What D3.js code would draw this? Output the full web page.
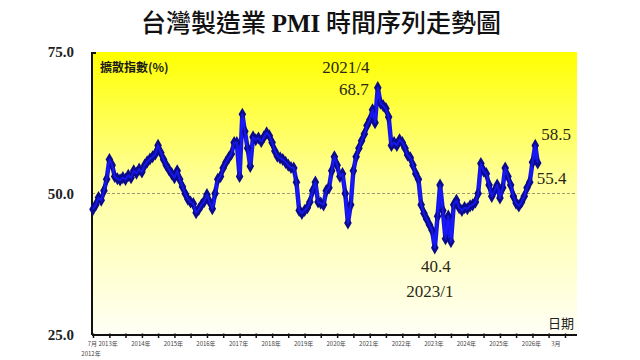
<!DOCTYPE html>
<html><head><meta charset="utf-8">
<script src="https://cdn.jsdelivr.net/npm/d3@7"></script>
<style>body{margin:0;background:#fff}svg{display:block}</style>
</head><body><svg id="c" width="640" height="360"></svg>
<script>
// First month of the series (July 2012), one value per month
const startYear = 2012, startMonth = 7;
const pmi = [
  47.2, 48.0, 49.3, 48.8, 50.5, 52.5, 56.0, 55.0, 53.0, 52.6, 52.4, 52.8,
  52.5, 53.2, 52.8, 54.0, 53.6, 54.3, 53.8, 55.0, 55.6, 56.1, 56.5, 57.0,
  58.5, 57.2, 56.0, 55.0, 54.2, 53.5, 52.8, 54.0, 52.5, 51.2, 50.0, 49.0,
  48.5, 48.2, 46.6, 47.2, 48.0, 48.6, 49.8, 48.5, 47.3, 50.0, 52.5, 53.0,
  54.5, 55.5, 56.3, 57.0, 59.0, 59.0, 53.0, 64.0, 61.0, 58.0, 54.8, 60.0,
  59.5, 59.8, 59.2, 60.0, 60.7, 60.2, 59.0, 57.5, 56.6, 56.3, 56.0, 55.5,
  55.0, 54.6, 54.5, 52.0, 47.0, 46.5, 47.0, 47.5, 48.5, 50.5, 52.0, 48.5,
  48.3, 48.0, 50.5, 51.0, 54.0, 56.5, 55.0, 53.0, 53.5, 50.0, 44.8, 48.0,
  54.0, 56.5, 58.0, 59.3, 60.5, 62.0, 63.0, 64.8, 62.5, 68.7, 66.0, 65.5,
  65.0, 63.5, 58.5, 59.0, 58.5, 59.5, 59.0, 58.0, 56.8, 56.3, 55.0, 53.5,
  52.5, 48.0, 46.5, 45.5, 44.5, 43.5, 40.4, 46.0, 51.5, 47.0, 42.0, 46.0,
  41.5, 48.0, 48.8, 47.5, 47.0, 47.5, 47.3, 47.8, 48.0, 48.5, 50.0, 55.3,
  54.0, 53.5, 51.5, 49.5, 50.5, 51.5, 49.2, 51.0, 54.5, 53.0, 51.5, 49.5,
  48.3, 47.8, 48.5, 49.5, 51.0, 52.0, 55.5, 58.5, 55.4
];
const yTicks = [25, 50, 75];
const xTickLabels = ["7月","2013年","2014年","2015年","2016年","2017年","2018年","2019年","2020年","2021年","2022年","2023年","2024年","2025年","2026年","3月"];
const xTickLabelDates = ["2012-07","2013-01","2014-01","2015-01","2016-01","2017-01","2018-01","2019-01","2020-01","2021-01","2022-01","2023-01","2024-01","2025-01","2026-01","2026-10"];
const annotations = [
  {date:"2021-04", value:68.7, lines:["2021/4","68.7"]},
  {date:"2023-01", value:40.4, lines:["40.4","2023/1"]},
  {date:"2026-02", value:58.5, lines:["58.5"]},
  {date:"2026-03", value:55.4, lines:["55.4"]}
];
// label offsets (pixels) relative to the annotated point
const annotationOffsets = [
  [[-32,-15],[-24,7]],
  [[1,24],[-5,49]],
  [[21,-5]],
  [[14,21]]
];
const title = ["台灣製造業 ", "PMI", " 時間序列走勢圖"];

const parse = d3.timeParse("%Y-%m");
const data = pmi.map((v, i) => ({date: new Date(startYear, startMonth - 1 + i, 1), value: v}));

const svg = d3.select("#c");
const L = 92, R = 577, T = 52, B = 335;
const x = d3.scaleTime().domain([new Date(2012,6,1), new Date(2027,0,1)]).range([93, 565]);
const y = d3.scaleLinear().domain([25, 75]).range([B, T]);

// gradient
const defs = svg.append("defs");
const g = defs.append("linearGradient").attr("id","bg").attr("x1",0).attr("y1",0).attr("x2",0).attr("y2",1);
g.append("stop").attr("offset","0%").attr("stop-color","#ffff00");
g.append("stop").attr("offset","45%").attr("stop-color","#ffff9a");
g.append("stop").attr("offset","100%").attr("stop-color","#fffff6");
svg.append("rect").attr("x",L).attr("y",T).attr("width",R-L).attr("height",B-T).attr("fill","url(#bg)");

// title
const tt = svg.append("text").attr("x",321).attr("y",32).attr("text-anchor","middle")
  .attr("font-size",25).attr("fill","#111");
tt.append("tspan").attr("font-family","'Noto Sans CJK TC'").attr("font-weight",500).text(title[0]);
tt.append("tspan").attr("font-family","'Liberation Serif'").attr("font-weight","bold").text(title[1]);
tt.append("tspan").attr("font-family","'Noto Sans CJK TC'").attr("font-weight",500).text(title[2]);

// 50 ref line
svg.append("line").attr("x1",L).attr("x2",R).attr("y1",y(50)).attr("y2",y(50))
  .attr("stroke","#a09a70").attr("stroke-width",1).attr("stroke-dasharray","3,2");

// y labels
svg.selectAll(".yl").data(yTicks).join("text").attr("class","yl")
  .attr("x",74).attr("y",d=>y(d)+5).attr("text-anchor","end")
  .attr("font-family","'Liberation Serif'").attr("font-weight","bold").attr("font-size",15)
  .attr("fill","#222").text(d=>d.toFixed(1));

// axes lines
svg.append("line").attr("x1",L).attr("x2",L).attr("y1",T).attr("y2",B).attr("stroke","#111").attr("stroke-width",2);
svg.append("line").attr("x1",L).attr("x2",L+4).attr("y1",T+1).attr("y2",T+1).attr("stroke","#111").attr("stroke-width",2);
const xAxis = d3.axisBottom(x).ticks(d3.timeMonth.every(6)).tickSize(3).tickFormat("");
const ax = svg.append("g").attr("transform",`translate(0,${B})`).call(xAxis);
ax.select(".domain").remove();
ax.selectAll(".tick line").attr("stroke","#111").attr("stroke-width",1.5).attr("y1",-1.5);
svg.append("line").attr("x1",L).attr("x2",R).attr("y1",B).attr("y2",B).attr("stroke","#111").attr("stroke-width",2);

// x tick labels
svg.selectAll(".xl").data(xTickLabels).join("text").attr("class","xl")
  .attr("x",(d,i)=>{ const px = x(parse(xTickLabelDates[i])); return i===0 ? px+4 : i===1 ? px-11 : px-1; })
  .attr("y",346)
  .attr("text-anchor",(d,i)=> i===0 ? "end" : i===1 ? "start" : "middle")
  .attr("font-family","'Noto Sans CJK TC'").attr("font-size",6)
  .attr("fill","#444").text(d=>d);
svg.append("text").attr("x",91).attr("y",356).attr("text-anchor","middle")
  .attr("font-family","'Noto Sans CJK TC'").attr("font-size",6).attr("fill","#444").text("2012年");

// axis titles
svg.append("text").attr("x",100).attr("y",72).attr("font-family","'Noto Sans CJK TC'")
  .attr("font-weight","bold").attr("font-size",12).attr("fill","#1a1a1a").text("擴散指數(%)");
svg.append("text").attr("x",548).attr("y",328).attr("font-family","'Noto Sans CJK TC'")
  .attr("font-size",13).attr("fill","#222").text("日期");

// line
const line = d3.line().x(d=>x(d.date)).y(d=>y(d.value));
svg.append("path").datum(data).attr("d",line).attr("fill","none")
  .attr("stroke","#1414e6").attr("stroke-width",4.5).attr("stroke-linejoin","round");
svg.selectAll(".m").data(data).join("path").attr("class","m")
  .attr("transform",d=>`translate(${x(d.date)},${y(d.value)})`)
  .attr("d",d3.symbol(d3.symbolDiamond,50)).attr("fill","#0a0a8c");
svg.append("path").datum(data).attr("d",line).attr("fill","none")
  .attr("stroke","#1a1aff").attr("stroke-width",2).attr("stroke-linejoin","round").attr("opacity",0.8);

// annotations
annotations.forEach((a,k)=>{
  const px = x(parse(a.date)), py = y(a.value);
  a.lines.forEach((t,i)=>{
    const o = annotationOffsets[k][i];
    svg.append("text").attr("x",px+o[0]).attr("y",py+o[1]).attr("text-anchor","middle")
      .attr("font-family","'Liberation Serif'").attr("font-size",17).attr("fill","#2a2814").text(t);
  });
});
</script></body></html>
